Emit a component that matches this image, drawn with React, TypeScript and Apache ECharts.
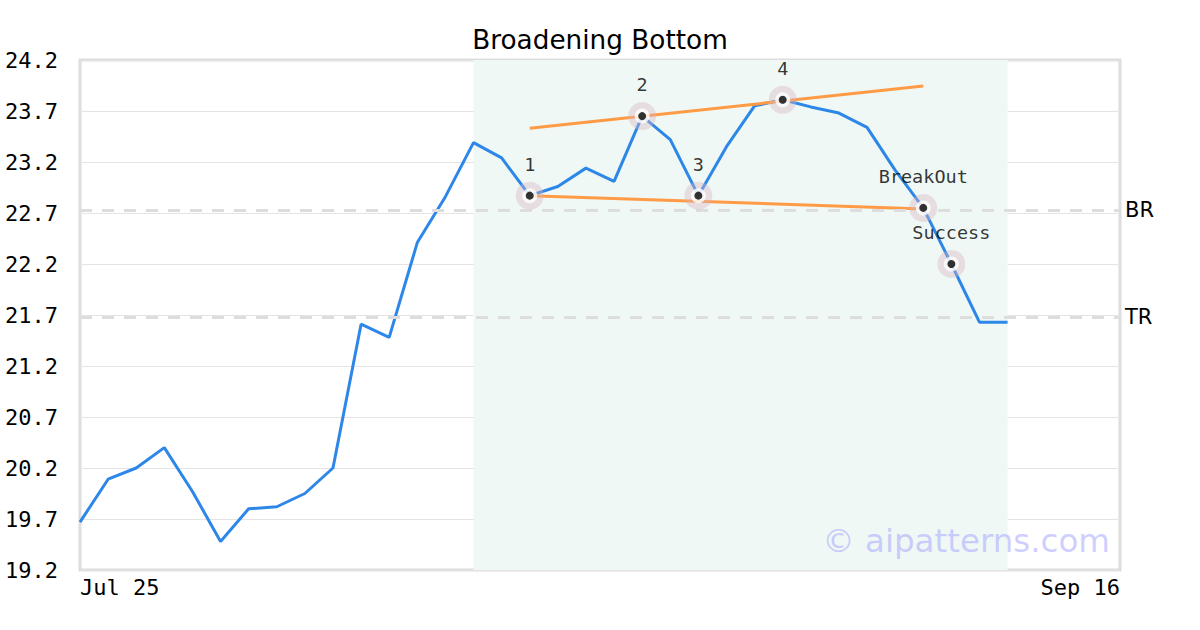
import React, { useEffect, useRef } from "react";
import * as echarts from "echarts";

const prices = [
  19.67, 20.09, 20.2, 20.4, 19.97, 19.48, 19.8, 19.82, 19.95, 20.2,
  21.61, 21.48, 22.41, 22.86, 23.39, 23.24, 22.87, 22.96, 23.14, 23.01,
  23.65, 23.42, 22.87, 23.35, 23.75, 23.81, 23.74, 23.68, 23.54, 23.12,
  22.75, 22.2, 21.63, 21.63,
];
const xStartLabel = "Jul 25";
const xEndLabel = "Sep 16";
const xMaxIndex = 37;
const patternStart = 14;
const patternEnd = 33;
const pivotIdx = [16, 20, 22, 25, 30, 31];
const pivotLabels = ["1", "2", "3", "4", "BreakOut", "Success"];
const upperTrend = [
  [16, 23.53],
  [30, 23.945],
];
const lowerTrend = [
  [16, 22.87],
  [30, 22.74],
];
const brLevel = 22.73;
const trLevel = 21.68;
const yMin = 19.2;
const yMax = 24.2;
const yStep = 0.5;

export default function App() {
  const ref = useRef<HTMLDivElement>(null);
  useEffect(() => {
    if (!ref.current) return;
    const chart = echarts.init(ref.current, null, { renderer: "svg" });
    const mono = "DejaVu Sans Mono";
    const sans = "DejaVu Sans";
    const lineData = prices.map((v, i) => [i, v]);
    const pivotData = pivotIdx.map((i, k) => ({ value: [i, prices[i]], label: pivotLabels[k] }));
    chart.setOption({
      animation: false,
      backgroundColor: "#ffffff",
      title: {
        text: "Broadening Bottom",
        left: 595,
        textAlign: "center",
        top: 22,
        textStyle: { fontFamily: sans, fontSize: 26.3, fontWeight: "normal", color: "#000" },
      },
      grid: {
        left: 80,
        right: 80,
        top: 60,
        bottom: 60,
        show: true,
        borderColor: "#dddddd",
        borderWidth: 3,
        backgroundColor: "transparent",
      },
      xAxis: {
        type: "value",
        min: 0,
        max: xMaxIndex,
        interval: xMaxIndex,
        axisLine: { show: false },
        axisTick: { show: false },
        splitLine: { show: false },
        axisLabel: {
          fontFamily: mono,
          fontSize: 22,
          color: "#000",
          margin: 6,
          alignMinLabel: "left",
          alignMaxLabel: "right",
          formatter: (v: number) => (v === 0 ? xStartLabel : v === xMaxIndex ? xEndLabel : ""),
        },
      },
      yAxis: {
        type: "value",
        min: yMin,
        max: yMax,
        interval: yStep,
        axisLine: { show: false },
        axisTick: { show: false },
        splitLine: { show: true, lineStyle: { color: "#e4e4e4", width: 1 } },
        axisLabel: {
          fontFamily: mono,
          fontSize: 22,
          color: "#000",
          margin: 22,
          formatter: (v: number) => v.toFixed(1),
        },
      },
      graphic: [
        {
          type: "text",
          right: 90,
          top: 524,
          z: 100,
          style: {
            text: "© aipatterns.com",
            fontFamily: sans,
            fontSize: 32.5,
            fill: "rgba(160,160,255,0.5)",
          },
        },
      ],
      series: [
        {
          type: "line",
          data: lineData,
          showSymbol: false,
          lineStyle: { color: "#2d87e8", width: 3 },
          z: 3,
          markArea: {
            silent: true,
            itemStyle: { color: "#eff8f5" },
            data: [[{ xAxis: patternStart }, { xAxis: patternEnd }]],
          },
          markLine: {
            silent: true,
            symbol: "none",
            lineStyle: { color: "#dddddd", width: 3, type: [12, 10] },
            label: {
              position: "end",
              fontFamily: sans,
              fontSize: 21,
              color: "#000",
              distance: 5,
            },
            data: [
              { yAxis: brLevel, label: { formatter: "BR" } },
              { yAxis: trLevel, label: { formatter: "TR" } },
            ],
          },
        },
        {
          type: "line",
          data: upperTrend,
          showSymbol: false,
          lineStyle: { color: "#ff9a45", width: 3 },
          z: 4,
        },
        {
          type: "line",
          data: lowerTrend,
          showSymbol: false,
          lineStyle: { color: "#ff9a45", width: 3 },
          z: 4,
        },
        {
          type: "scatter",
          data: pivotData.map((d) => ({
            value: d.value,
            label: { show: true, formatter: d.label },
          })),
          symbolSize: 28,
          itemStyle: { color: "rgba(215,180,192,0.5)" },
          label: {
            position: "top",
            distance: 8,
            fontFamily: mono,
            fontSize: 18.5,
            color: "#000",
          },
          z: 5,
        },
        {
          type: "scatter",
          data: pivotData.map((d) => d.value),
          symbolSize: 15,
          itemStyle: { color: "#ffffff" },
          z: 6,
        },
        {
          type: "scatter",
          data: pivotData.map((d) => d.value),
          symbolSize: 8,
          itemStyle: { color: "#000000" },
          z: 7,
        },
      ],
    });
    return () => chart.dispose();
  }, []);
  return (
    <div
      ref={ref}
      style={{ position: "fixed", left: 0, top: 0, width: 1200, height: 630 }}
    />
  );
}
